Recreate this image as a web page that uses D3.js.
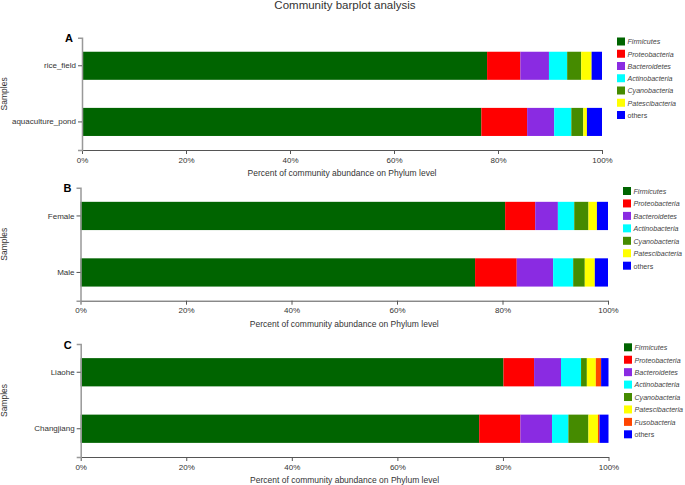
<!DOCTYPE html>
<html><head><meta charset="utf-8">
<script src="https://cdn.jsdelivr.net/npm/d3@7"></script>
<style>
body{margin:0;background:#fff;}
svg{display:block;font-family:"Liberation Sans",Arial,sans-serif;}
</style></head>
<body>
<svg id="chart" width="685" height="485"></svg>
<script>
// ---------- data ----------
const tickValues = [0, 20, 40, 60, 80, 100];
const phylaAB = ["Firmicutes","Proteobacteria","Bacteroidetes","Actinobacteria","Cyanobacteria","Patescibacteria","others"];
const phylaC  = ["Firmicutes","Proteobacteria","Bacteroidetes","Actinobacteria","Cyanobacteria","Patescibacteria","Fusobacteria","others"];
const phylumColors = {
  Firmicutes:"#006400", Proteobacteria:"#FF0000", Bacteroidetes:"#8A2BE2",
  Actinobacteria:"#00FFFF", Cyanobacteria:"#458B00", Patescibacteria:"#FFFF00",
  Fusobacteria:"#FF4500", others:"#0000FF"
};
const samplesA = ["rice_field","aquaculture_pond"];
const valuesA = [
  [77.9, 6.4, 5.5, 3.5, 2.7, 2.0, 2.0],
  [76.8, 8.8, 5.2, 3.3, 2.3, 0.7, 2.9]
];
const samplesB = ["Female","Male"];
const valuesB = [
  [80.5, 5.7, 4.3, 3.1, 2.7, 1.6, 2.1],
  [74.8, 7.9, 6.9, 3.8, 2.2, 1.9, 2.5]
];
const samplesC = ["Liaohe","Changjiang"];
const valuesC = [
  [80.1, 5.8, 5.1, 3.8, 1.1, 1.7, 1.0, 1.4],
  [75.5, 7.8, 6.0, 3.1, 3.8, 1.8, 0.3, 1.7]
];
const panelLetters = ["A","B","C"];
const titleText = "Community barplot analysis";
const xTitle = "Percent of community abundance on Phylum level";
const yTitle = "Samples";

// ---------- layout (not data) ----------
const panels = [
  {letter:panelLetters[0], samples:samplesA, values:valuesA, phyla:phylaAB, x0:82,   x1:602,   top:37.7, bottom:150,   lx:617, ly:41.5,  ldy:12.25},
  {letter:panelLetters[1], samples:samplesB, values:valuesB, phyla:phylaAB, x0:80.5, x1:608,   top:187.7,bottom:300.7, lx:623, ly:191,   ldy:12.45},
  {letter:panelLetters[2], samples:samplesC, values:valuesC, phyla:phylaC,  x0:80.7, x1:608.5, top:344,  bottom:457,   lx:624, ly:347.3, ldy:12.43}
];

const svg = d3.select("#chart");

svg.append("text").attr("x",345).attr("y",9).attr("text-anchor","middle")
  .attr("font-size",11.5).attr("fill","#333").text(titleText);

panels.forEach(p => {
  const g = svg.append("g");
  const x = d3.scaleLinear().domain([0,100]).range([p.x0,p.x1]);
  const y = d3.scaleBand().domain(p.samples).range([p.top,p.bottom]).paddingInner(0.5).paddingOuter(0.25);

  // stacked bars
  const rows = p.samples.map((s,i)=>{ const o={sample:s}; p.phyla.forEach((ph,j)=>o[ph]=p.values[i][j]); return o; });
  const stack = d3.stack().keys(p.phyla)(rows);
  g.selectAll("g.layer").data(stack).join("g")
    .attr("fill", d=>phylumColors[d.key])
    .selectAll("rect").data(d=>d).join("rect")
    .attr("x", d=>x(d[0])).attr("width", d=>x(d[1])-x(d[0]))
    .attr("y", d=>y(d.data.sample)).attr("height", y.bandwidth());

  // x axis
  const xa = g.append("g").attr("transform",`translate(0,${p.bottom})`)
    .call(d3.axisBottom(x).tickValues(tickValues).tickFormat(d=>d+"%").tickSize(4).tickSizeOuter(0));
  xa.select(".domain").attr("stroke","#555");
  xa.selectAll(".tick line").attr("stroke","#555");
  xa.selectAll("text").attr("font-size",8).attr("fill","#333").attr("font-family","Liberation Sans, Arial, sans-serif");

  // y axis
  const ya = g.append("g").attr("transform",`translate(${p.x0},0)`)
    .call(d3.axisLeft(y).tickSize(4).tickSizeOuter(4).tickPadding(2));
  ya.select(".domain").attr("stroke","#999").attr("stroke-width",1.5);
  ya.selectAll(".tick line").attr("stroke","#555");
  ya.selectAll("text").attr("font-size",8).attr("fill","#333").attr("font-family","Liberation Sans, Arial, sans-serif");

  // panel letter
  g.append("text").attr("x",p.x0-13).attr("y",p.top+4.5).attr("text-anchor","middle")
    .attr("font-size",11).attr("font-weight","bold").attr("fill","#000").text(p.letter);

  // axis titles
  g.append("text").attr("x",(p.x0+p.x1)/2).attr("y",p.bottom+26).attr("text-anchor","middle")
    .attr("font-size",8.5).attr("fill","#333").text(xTitle);
  g.append("text").attr("transform",`translate(7,${(p.top+p.bottom)/2}) rotate(-90)`)
    .attr("text-anchor","middle").attr("font-size",8.5).attr("fill","#333").text(yTitle);

  // legend
  const lg = g.selectAll("g.leg").data(p.phyla).join("g")
    .attr("transform",(d,i)=>`translate(${p.lx},${p.ly+i*p.ldy})`);
  lg.append("rect").attr("x",0).attr("y",-4).attr("width",8).attr("height",8)
    .attr("fill",d=>phylumColors[d]);
  lg.append("text").attr("x",10.5).attr("y",2.8).attr("font-size",7.1).attr("fill","#444")
    .attr("font-style",d=>d==="others"?"normal":"italic").text(d=>d);
});
</script>
</body></html>
